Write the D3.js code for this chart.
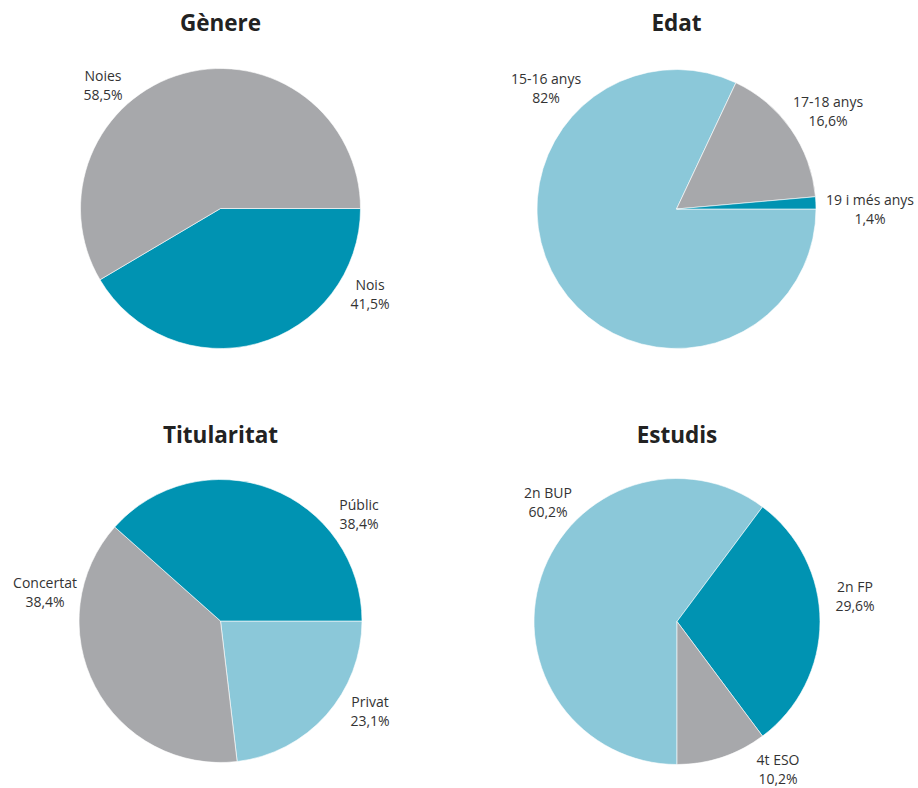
<!DOCTYPE html>
<html><head><meta charset="utf-8">
<script src="https://cdn.jsdelivr.net/npm/d3@7"></script>
<style>
html,body{margin:0;padding:0;background:#fff;}
text{font-family:"Open Sans",Lato,sans-serif;fill:#333;}
</style></head>
<body><svg id="c" width="918" height="788"></svg>
<script>
// ---- data ----
const titles = ["Gènere", "Edat", "Titularitat", "Estudis"];
const genereLabels = ["Nois", "Noies"];
const genereValues = [41.5, 58.5];
const edatLabels = ["15-16 anys", "17-18 anys", "19 i més anys"];
const edatValues = [82, 16.6, 1.4];
const titularitatLabels = ["Privat", "Concertat", "Públic"];
const titularitatValues = [23.1, 38.4, 38.4];
const estudisLabels = ["2n BUP", "2n FP", "4t ESO"];
const estudisValues = [60.2, 29.6, 10.2];
const valueText = {
  "Nois":"41,5%","Noies":"58,5%",
  "15-16 anys":"82%","17-18 anys":"16,6%","19 i més anys":"1,4%",
  "Privat":"23,1%","Concertat":"38,4%","Públic":"38,4%",
  "2n BUP":"60,2%","2n FP":"29,6%","4t ESO":"10,2%"
};

// ---- layout / styles ----
const C_DARK = "#0093b2", C_LIGHT = "#8bc8d9", C_GREY = "#a7a8ab";
const panels = [
  {cx:220.5, cy:208.5, r:140, ty:31, start:Math.PI/2, labels:genereLabels, values:genereValues,
   colors:[C_DARK, C_GREY], pos:[[370,290],[103,81]]},
  {cx:676.5, cy:209, r:139.5, ty:31, start:Math.PI/2, labels:edatLabels, values:edatValues,
   colors:[C_LIGHT, C_GREY, C_DARK], pos:[[546,84],[828,107],[870,205]]},
  {cx:220.5, cy:621, r:141.5, ty:443, start:Math.PI/2, labels:titularitatLabels, values:titularitatValues,
   colors:[C_LIGHT, C_GREY, C_DARK], pos:[[370,707],[45,588],[359,510]]},
  {cx:677, cy:621.5, r:143, ty:443, start:Math.PI, labels:estudisLabels, values:estudisValues,
   colors:[C_LIGHT, C_DARK, C_GREY], pos:[[548,498],[855,592],[778,765]]}
];

const svg = d3.select("#c");
panels.forEach((p, i) => {
  const g = svg.append("g");
  g.append("text").attr("x", p.cx).attr("y", p.ty).attr("text-anchor","middle")
    .style("font-size","22.5px").style("font-weight","bold").style("fill","#222").text(titles[i]);
  const data = p.labels.map((l, k) => ({label:l, value:p.values[k], color:p.colors[k], pos:p.pos[k]}));
  const pie = d3.pie().sort(null).value(d => d.value)
    .startAngle(p.start).endAngle(p.start + 2*Math.PI);
  const arc = d3.arc().innerRadius(0).outerRadius(p.r);
  const pg = g.append("g").attr("transform", `translate(${p.cx},${p.cy})`);
  pg.selectAll("path").data(pie(data)).join("path")
    .attr("d", arc).attr("fill", d => d.data.color)
    .attr("stroke","#fff").attr("stroke-width",0.6);
  data.forEach(d => {
    const t = g.append("text").attr("text-anchor","middle").style("font-size","14px");
    t.append("tspan").attr("x", d.pos[0]).attr("y", d.pos[1]).text(d.label);
    t.append("tspan").attr("x", d.pos[0]).attr("y", d.pos[1] + 19).text(valueText[d.label]);
  });
});
</script></body></html>
